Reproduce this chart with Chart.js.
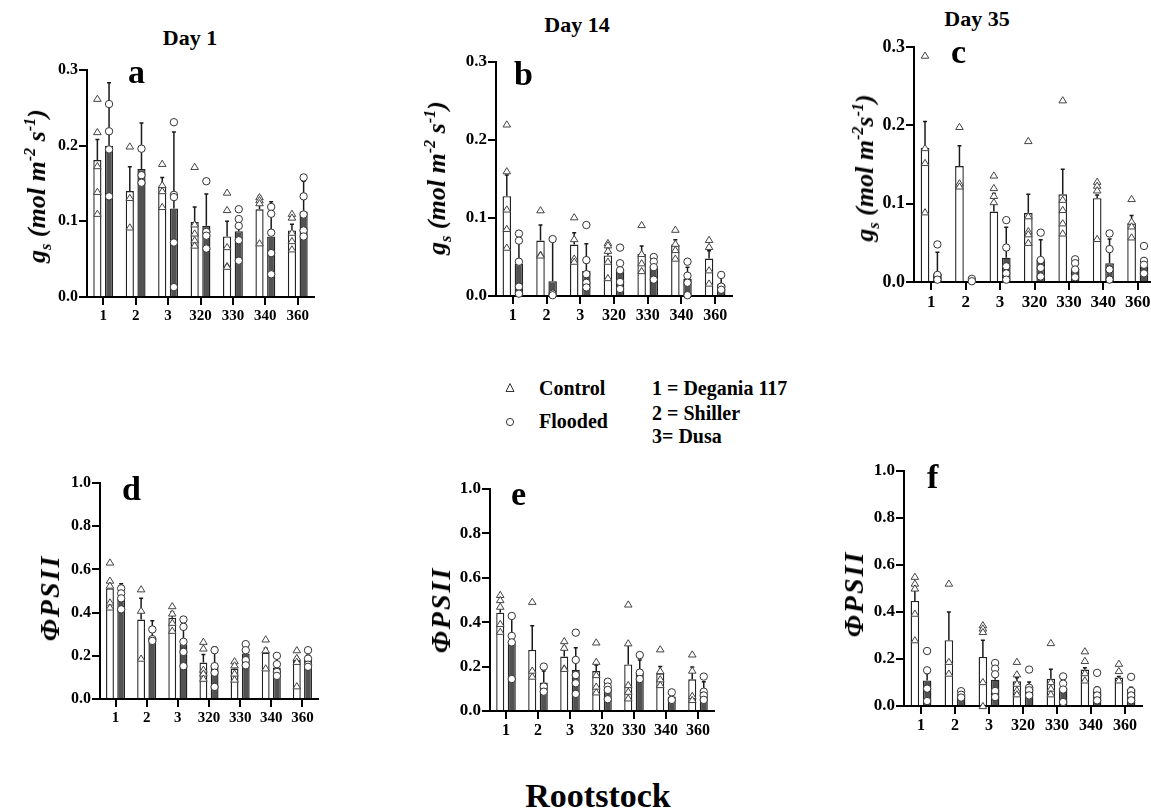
<!DOCTYPE html>
<html>
<head>
<meta charset="utf-8">
<script src="https://cdn.jsdelivr.net/npm/chart.js@4.4.1/dist/chart.umd.min.js"></script>
<style>
  html, body { margin: 0; padding: 0; background: #fff; }
  body { position: relative; width: 1151px; height: 810px; overflow: hidden; font-family: 'Liberation Serif', 'Times New Roman', serif; color: #000; }
  canvas { position: absolute; }
  .t { position: absolute; font-weight: bold; line-height: 1; white-space: nowrap; }
  .ytitle { position: absolute; font-weight: bold; font-style: italic; line-height: 1; white-space: nowrap;
            transform: translate(-50%, -50%) rotate(-90deg); }
  .ytitle sub, .ytitle sup { font-size: 0.62em; line-height: 0; }
  .phi { letter-spacing: 2px; }
  svg { position: absolute; }
</style>
</head>
<body>

<canvas id="pa" width="276" height="269" style="left:42px;top:58px"></canvas>
<canvas id="pb" width="285" height="276" style="left:451px;top:50px"></canvas>
<canvas id="pc" width="290" height="277" style="left:869px;top:35px"></canvas>
<canvas id="pd" width="267" height="258" style="left:55px;top:471px"></canvas>
<canvas id="pe" width="273" height="264" style="left:445px;top:477px"></canvas>
<canvas id="pf" width="287" height="277" style="left:859px;top:459px"></canvas>

<!-- titles -->
<div class="t" style="font-size:22px;left:190px;top:27px;transform:translateX(-50%)">Day 1</div>
<div class="t" style="font-size:22px;left:577px;top:14px;transform:translateX(-50%)">Day 14</div>
<div class="t" style="font-size:22px;left:977px;top:8px;transform:translateX(-50%)">Day 35</div>

<!-- panel letters -->
<div class="t" style="font-size:34px;left:128px;top:55px">a</div>
<div class="t" style="font-size:34px;left:514px;top:57px">b</div>
<div class="t" style="font-size:34px;left:951px;top:35px">c</div>
<div class="t" style="font-size:34px;left:122px;top:472px">d</div>
<div class="t" style="font-size:34px;left:511px;top:477px">e</div>
<div class="t" style="font-size:34px;left:927px;top:460px">f</div>

<!-- y axis titles -->
<div class="ytitle" style="font-size:26px;left:37px;top:186px">g<sub>s</sub> (mol m<sup>-2</sup> s<sup>-1</sup>)</div>
<div class="ytitle" style="font-size:26px;left:437px;top:178px">g<sub>s</sub> (mol m<sup>-2</sup> s<sup>-1</sup>)</div>
<div class="ytitle" style="font-size:26px;left:865px;top:168px">g<sub>s</sub> (mol m<sup>-2</sup>s<sup>-1</sup>)</div>
<div class="ytitle phi" style="font-size:28px;left:50px;top:598px">ΦPSII</div>
<div class="ytitle phi" style="font-size:28px;left:441px;top:610px">ΦPSII</div>
<div class="ytitle phi" style="font-size:28px;left:854px;top:594px">ΦPSII</div>

<!-- legend -->
<svg width="12" height="12" style="left:504px;top:382px"><polygon points="6,1.5 2,9.5 10,9.5" fill="#fff" stroke="#333" stroke-width="1"/></svg>
<svg width="12" height="12" style="left:504px;top:416px"><circle cx="6" cy="6" r="3.6" fill="#fff" stroke="#333" stroke-width="1"/></svg>
<div class="t" style="font-size:20px;left:539px;top:378px">Control</div>
<div class="t" style="font-size:20px;left:539px;top:411px">Flooded</div>
<div class="t" style="font-size:20px;left:652px;top:378px">1 = Degania 117</div>
<div class="t" style="font-size:20px;left:652px;top:403px">2 = Shiller</div>
<div class="t" style="font-size:20px;left:652px;top:426px">3= Dusa</div>

<div class="t" style="font-size:34px;left:598px;top:779px;transform:translateX(-50%)">Rootstock</div>

<script>
// Rootstock categories
const rootstocks = ['1', '2', '3', '320', '330', '340', '360'];

// ---- gs, Day 1 ----
const gsDay1Control = [0.181, 0.140, 0.146, 0.099, 0.080, 0.116, 0.088];
const gsDay1ControlSd = [0.027, 0.032, 0.012, 0.020, 0.020, 0.017, 0.008];
const gsDay1Flooded = [0.200, 0.169, 0.117, 0.094, 0.087, 0.080, 0.113];
const gsDay1FloodedSd = [0.083, 0.061, 0.101, 0.042, 0.019, 0.046, 0.040];
const gsDay1ControlPts = [
    [0.262, 0.218, 0.173, 0.139, 0.110], [0.199, 0.131, 0.092], [0.176, 0.148, 0.140, 0.119],
    [0.172, 0.096, 0.084, 0.075, 0.068], [0.138, 0.115, 0.066, 0.041, 0.040], [0.132, 0.128, 0.124, 0.071],
    [0.110, 0.105, 0.085, 0.074, 0.063]
];
const gsDay1FloodedPts = [
    [0.255, 0.219, 0.195, 0.133], [0.196, 0.161, 0.151], [0.231, 0.135, 0.132, 0.072, 0.013],
    [0.153, 0.086, 0.081, 0.064], [0.116, 0.103, 0.094, 0.075, 0.048], [0.119, 0.110, 0.085, 0.058, 0.030],
    [0.158, 0.133, 0.109, 0.088, 0.080]
];

// ---- gs, Day 14 ----
const gsDay14Control = [0.128, 0.071, 0.066, 0.052, 0.054, 0.066, 0.048];
const gsDay14ControlSd = [0.027, 0.020, 0.015, 0.010, 0.010, 0.006, 0.010];
const gsDay14Flooded = [0.041, 0.019, 0.032, 0.034, 0.038, 0.022, 0.015];
const gsDay14FloodedSd = [0.042, 0.054, 0.035, 0.011, 0.010, 0.015, 0.009];
const gsDay14ControlPts = [
    [0.220, 0.160, 0.111, 0.086, 0.062], [0.110, 0.053, 0.052], [0.101, 0.073, 0.048, 0.044],
    [0.068, 0.065, 0.058, 0.044, 0.023], [0.091, 0.054, 0.042, 0.032], [0.085, 0.067, 0.059, 0.048],
    [0.072, 0.063, 0.033, 0.016]
];
const gsDay14FloodedPts = [
    [0.080, 0.071, 0.044, 0.012, 0.003], [0.073, 0.003, 0.001], [0.091, 0.046, 0.028, 0.017, 0.011],
    [0.062, 0.042, 0.033, 0.018, 0.009], [0.050, 0.044, 0.037, 0.021], [0.044, 0.026, 0.017, 0.001],
    [0.027, 0.012, 0.008]
];

// ---- gs, Day 35 ----
const gsDay35Control = [0.171, 0.148, 0.090, 0.088, 0.112, 0.107, 0.075];
const gsDay35ControlSd = [0.034, 0.026, 0.023, 0.024, 0.032, 0.004, 0.010];
const gsDay35Flooded = [0.011, 0.001, 0.031, 0.028, 0.017, 0.024, 0.020];
const gsDay35FloodedSd = [0.027, 0.002, 0.039, 0.026, 0.007, 0.031, 0.010];
const gsDay35ControlPts = [
    [0.289, 0.171, 0.152, 0.089], [0.198, 0.126, 0.122], [0.136, 0.120, 0.110, 0.102],
    [0.180, 0.084, 0.065, 0.061, 0.050], [0.232, 0.105, 0.092, 0.075, 0.062], [0.128, 0.123, 0.117, 0.055],
    [0.106, 0.077, 0.071, 0.057]
];
const gsDay35FloodedPts = [
    [0.048, 0.009, 0.003], [0.004, 0.001], [0.079, 0.044, 0.020, 0.011, 0.003],
    [0.063, 0.028, 0.018, 0.007], [0.029, 0.024, 0.016, 0.006], [0.062, 0.042, 0.016, 0.003],
    [0.046, 0.027, 0.022, 0.011]
];

// ---- PhiPSII, Day 1 ----
const psiiDay1Control = [0.512, 0.368, 0.376, 0.169, 0.141, 0.215, 0.176];
const psiiDay1ControlSd = [0.033, 0.098, 0.028, 0.037, 0.019, 0.020, 0.019];
const psiiDay1Flooded = [0.469, 0.285, 0.254, 0.153, 0.211, 0.146, 0.180];
const psiiDay1FloodedSd = [0.064, 0.077, 0.096, 0.088, 0.038, 0.049, 0.023];
const psiiDay1ControlPts = [
    [0.632, 0.548, 0.525, 0.447, 0.424], [0.508, 0.409, 0.187], [0.430, 0.396, 0.353, 0.316],
    [0.265, 0.234, 0.136, 0.118, 0.094], [0.175, 0.156, 0.118, 0.090], [0.276, 0.226, 0.142],
    [0.226, 0.190, 0.172, 0.059]
];
const psiiDay1FloodedPts = [
    [0.512, 0.489, 0.466, 0.415], [0.322, 0.277, 0.269], [0.368, 0.334, 0.265, 0.218, 0.152],
    [0.226, 0.152, 0.122, 0.056], [0.254, 0.226, 0.180, 0.156], [0.200, 0.161, 0.125, 0.107],
    [0.226, 0.187, 0.159, 0.149]
];

// ---- PhiPSII, Day 14 ----
const psiiDay14Control = [0.443, 0.275, 0.245, 0.180, 0.210, 0.170, 0.143];
const psiiDay14ControlSd = [0.027, 0.109, 0.045, 0.027, 0.090, 0.030, 0.055];
const psiiDay14Flooded = [0.312, 0.128, 0.185, 0.102, 0.177, 0.065, 0.080];
const psiiDay14FloodedSd = [0.120, 0.052, 0.100, 0.030, 0.053, 0.022, 0.052];
const psiiDay14ControlPts = [
    [0.523, 0.500, 0.470, 0.392, 0.357], [0.492, 0.182, 0.155], [0.315, 0.285, 0.192, 0.190],
    [0.309, 0.222, 0.162, 0.110, 0.084], [0.480, 0.305, 0.117, 0.087, 0.057], [0.278, 0.180, 0.143, 0.117],
    [0.255, 0.182, 0.068, 0.050]
];
const psiiDay14FloodedPts = [
    [0.428, 0.338, 0.309, 0.144], [0.200, 0.110, 0.087], [0.353, 0.230, 0.162, 0.125, 0.077],
    [0.132, 0.110, 0.095, 0.053], [0.252, 0.173, 0.144], [0.084, 0.050],
    [0.155, 0.087, 0.070, 0.050]
];

// ---- PhiPSII, Day 35 ----
const psiiDay35Control = [0.447, 0.280, 0.209, 0.105, 0.116, 0.155, 0.121];
const psiiDay35ControlSd = [0.046, 0.120, 0.071, 0.015, 0.040, 0.008, 0.005];
const psiiDay35Flooded = [0.109, 0.048, 0.112, 0.081, 0.078, 0.065, 0.072];
const psiiDay35FloodedSd = [0.029, 0.012, 0.012, 0.021, 0.022, 0.016, 0.008];
const psiiDay35ControlPts = [
    [0.550, 0.521, 0.500, 0.393, 0.280], [0.521, 0.188, 0.138], [0.344, 0.330, 0.315, 0.102, 0.000],
    [0.188, 0.135, 0.095, 0.067, 0.050], [0.268, 0.102, 0.074, 0.050], [0.233, 0.192, 0.140, 0.109],
    [0.180, 0.149, 0.109]
];
const psiiDay35FloodedPts = [
    [0.234, 0.152, 0.074, 0.021], [0.063, 0.048, 0.036], [0.183, 0.159, 0.135, 0.064, 0.038],
    [0.155, 0.078, 0.067, 0.045], [0.126, 0.095, 0.070, 0.017], [0.141, 0.067, 0.045, 0.024],
    [0.124, 0.064, 0.045, 0.024]
];

// layout constants (y axis width, x axis height, padding)
const AXIS_W = 45, XAX_H = 30, PAD_T = 12, PAD_R = 4;

function serif(size) {
    return { family: "'Liberation Serif', 'Times New Roman', serif", size: size, weight: 'bold' };
}

function drawTri(c, x, y) {
    c.beginPath();
    c.moveTo(x, y - 3.6);
    c.lineTo(x - 3.8, y + 2.6);
    c.lineTo(x + 3.8, y + 2.6);
    c.closePath();
    c.fillStyle = '#fff';
    c.fill();
    c.strokeStyle = '#444';
    c.lineWidth = 1;
    c.stroke();
}

function drawCirc(c, x, y) {
    c.beginPath();
    c.arc(x, y, 3.7, 0, Math.PI * 2);
    c.fillStyle = '#fff';
    c.fill();
    c.strokeStyle = '#333';
    c.lineWidth = 1;
    c.stroke();
}

// error bars (mean + SD, upward only) and individual replicates on top of bars
const errAndPoints = {
    id: 'errAndPoints',
    afterDatasetsDraw(chart, args, opts) {
        const c = chart.ctx, y = chart.scales.y;
        c.save();
        [0, 1].forEach(di => {
            const means = chart.data.datasets[di].data;
            chart.getDatasetMeta(di).data.forEach((bar, j) => {
                const base = y.getPixelForValue(means[j]);
                const top = y.getPixelForValue(means[j] + opts.sd[di][j]);
                c.strokeStyle = '#1a1a1a';
                c.lineWidth = 1.5;
                c.beginPath();
                c.moveTo(bar.x, base);
                c.lineTo(bar.x, top);
                c.moveTo(bar.x - 2, top);
                c.lineTo(bar.x + 2, top);
                c.stroke();
            });
        });
        [0, 1].forEach(di => {
            chart.getDatasetMeta(di).data.forEach((bar, j) => {
                opts.pts[di][j].forEach(v => {
                    const py = y.getPixelForValue(v);
                    if (di === 0) drawTri(c, bar.x, py);
                    else drawCirc(c, bar.x, py);
                });
            });
        });
        c.restore();
    }
};

function drawPanel(id, p) {
    const ctx = document.getElementById(id);
    new Chart(ctx, {
        type: 'bar',
        data: {
            labels: rootstocks,
            datasets: [
                {
                    label: 'Control', data: p.ctrl,
                    backgroundColor: '#fff', borderColor: '#222', borderWidth: 1.4,
                    categoryPercentage: 0.72, barPercentage: 0.7
                },
                {
                    label: 'Flooded', data: p.fld,
                    backgroundColor: '#525252', borderColor: '#222', borderWidth: 1.4,
                    categoryPercentage: 0.72, barPercentage: 0.7
                }
            ]
        },
        options: {
            responsive: false, animation: false,
            layout: { padding: { top: PAD_T, right: PAD_R, left: 0, bottom: 0 } },
            plugins: {
                legend: { display: false },
                tooltip: { enabled: false },
                errAndPoints: { sd: [p.ctrlSd, p.fldSd], pts: [p.ctrlPts, p.fldPts] }
            },
            scales: {
                x: {
                    grid: { display: true, drawOnChartArea: false, offset: false, tickLength: 8, color: '#000', lineWidth: 2 },
                    border: { color: '#000', width: 2 },
                    ticks: { color: '#000', font: serif(p.fs), padding: 2, maxRotation: 0, autoSkip: false },
                    afterFit: s => { s.height = XAX_H; }
                },
                y: {
                    min: 0, max: p.max,
                    grid: { drawOnChartArea: false, tickLength: 8, color: '#000', lineWidth: 2 },
                    border: { color: '#000', width: 2 },
                    ticks: { stepSize: p.step, color: '#000', font: serif(p.fs + 1), padding: 1, callback: v => v.toFixed(1) },
                    afterFit: s => { s.width = AXIS_W; }
                }
            }
        },
        plugins: [errAndPoints]
    });
}

drawPanel('pa', { ctrl: gsDay1Control, ctrlSd: gsDay1ControlSd, fld: gsDay1Flooded, fldSd: gsDay1FloodedSd,
    ctrlPts: gsDay1ControlPts, fldPts: gsDay1FloodedPts, max: 0.3, step: 0.1, fs: 15 });
drawPanel('pb', { ctrl: gsDay14Control, ctrlSd: gsDay14ControlSd, fld: gsDay14Flooded, fldSd: gsDay14FloodedSd,
    ctrlPts: gsDay14ControlPts, fldPts: gsDay14FloodedPts, max: 0.3, step: 0.1, fs: 16 });
drawPanel('pc', { ctrl: gsDay35Control, ctrlSd: gsDay35ControlSd, fld: gsDay35Flooded, fldSd: gsDay35FloodedSd,
    ctrlPts: gsDay35ControlPts, fldPts: gsDay35FloodedPts, max: 0.3, step: 0.1, fs: 17 });
drawPanel('pd', { ctrl: psiiDay1Control, ctrlSd: psiiDay1ControlSd, fld: psiiDay1Flooded, fldSd: psiiDay1FloodedSd,
    ctrlPts: psiiDay1ControlPts, fldPts: psiiDay1FloodedPts, max: 1.0, step: 0.2, fs: 15 });
drawPanel('pe', { ctrl: psiiDay14Control, ctrlSd: psiiDay14ControlSd, fld: psiiDay14Flooded, fldSd: psiiDay14FloodedSd,
    ctrlPts: psiiDay14ControlPts, fldPts: psiiDay14FloodedPts, max: 1.0, step: 0.2, fs: 16 });
drawPanel('pf', { ctrl: psiiDay35Control, ctrlSd: psiiDay35ControlSd, fld: psiiDay35Flooded, fldSd: psiiDay35FloodedSd,
    ctrlPts: psiiDay35ControlPts, fldPts: psiiDay35FloodedPts, max: 1.0, step: 0.2, fs: 16 });
</script>
</body>
</html>
